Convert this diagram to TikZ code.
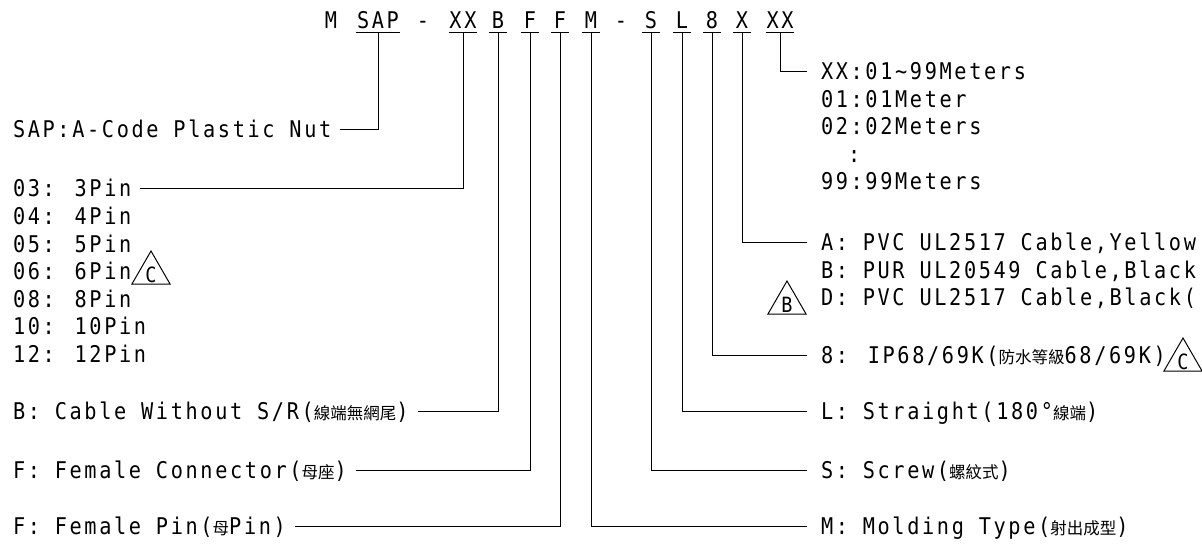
\documentclass[tikz,border=0pt]{standalone}
\usepackage{fontspec}
\usepackage{tikz}
\usetikzlibrary{shapes.geometric}
\newfontfamily\cadfont[FakeStretch=0.88, LetterSpace=11.5]{DejaVu Sans Mono}
\newfontfamily\cjkfont{Noto Sans CJK TC}
\newcommand{\zh}[1]{{\cjkfont\fontsize{16.5}{18}\selectfont #1}}

\begin{document}
\begin{tikzpicture}[
    x=1pt, y=-1pt,
    every node/.style={font=\cadfont\fontsize{23}{26}\selectfont, inner sep=0pt},
    code/.style={anchor=south, text height=16pt, text depth=0pt, inner ysep=4pt, minimum width=17pt},
    labL/.style={anchor=west, text height=16pt, text depth=0pt, outer xsep=9pt},
    labR/.style={anchor=west, text height=16pt, text depth=0pt, outer xsep=14pt},
    tri/.style={draw, line width=1pt, regular polygon, regular polygon sides=3, minimum size=44pt,
      text height=8pt, text depth=0pt, font=\cadfont\fontsize{21}{22}\selectfont},
    lead/.style={line width=1pt}
  ]
  \fill[white] (0,0) rectangle (1202,548);
  \useasboundingbox (0,0) rectangle (1202,548);
  \clip (0,0) rectangle (1202,548);

  % part number
  \node[code] (cM) at (331,33) {M};
  \node[code, minimum width=43pt] (cSAP) at (378,33) {SAP};
  \node[code] (cD1) at (423,33) {-};
  \node[code, minimum width=28pt] (cXX) at (463,33) {XX};
  \node[code] (cB) at (498,33) {B};
  \node[code] (cF1) at (530,33) {F};
  \node[code] (cF2) at (560,33) {F};
  \node[code] (cMo) at (591,33) {M};
  \node[code] (cD2) at (621,33) {-};
  \node[code] (cS) at (651,33) {S};
  \node[code] (cL) at (682,33) {L};
  \node[code] (c8) at (712,33) {8};
  \node[code] (cX) at (742,33) {X};
  \node[code, minimum width=28pt] (cXXb) at (780,33) {XX};
  \foreach \c in {cSAP,cXX,cB,cF1,cF2,cMo,cS,cL,c8,cX,cXXb}
    \draw[lead] (\c.south west) -- (\c.south east);

  % left side
  \node[labL] (lSAP) at (4,130) {SAP:A-Code Plastic Nut};
  \foreach \p/\t [count=\i] in {03/3Pin,04/4Pin,05/5Pin,06/6Pin,08/8Pin,10/10Pin,12/12Pin}
    \node[labL] (pin\p) at (4,{189+27.5*(\i-1)}) {\p: \t};
  \node[tri] (triC1) at (151,273) {\raisebox{-5pt}{C}};
  \node[labL] (lB) at (4,411) {B: Cable Without S/R(\zh{線端無網尾})};
  \node[labL] (lF1) at (4,470) {F: Female Connector(\zh{母座})};
  \node[labL] (lF2) at (4,526) {F: Female Pin(\zh{母}Pin)};

  % right side
  \node[labR] (lXX) at (807,72) {XX:01\char`\~99Meters};
  \node[labR] (m01) at (807,99.5) {01:01Meter};
  \node[labR] (m02) at (807,127) {02:02Meters};
  \node[labR] (mdots) at (807,154.5) {\phantom{99}:};
  \node[labR] (m99) at (807,182) {99:99Meters};
  \node[labR] (lA) at (807,243) {A: PVC UL2517 Cable,Yellow};
  \node[labR] (lBc) at (807,270) {B: PUR UL20549 Cable,Black};
  \node[labR] (lD) at (807,297) {D: PVC UL2517 Cable,Black(};
  \node[tri] (triB) at (787,303) {\raisebox{-5pt}{B}};
  \node[labR] (l8) at (807,355) {8: IP68/69K(\zh{防水等級}68/69K)};
  \node[tri] (triC2) at (1183,360) {\raisebox{-5pt}{C}};
  \node[labR] (lL) at (807,411) {L: Straight(180°\zh{線端})};
  \node[labR] (lS) at (807,470) {S: Screw(\zh{螺紋式})};
  \node[labR] (lM) at (807,526) {M: Molding Type(\zh{射出成型})};

  \draw[lead] (cSAP.south) |- (lSAP.east);
  \draw[lead] (cXX.south) |- (pin03.east);
  \draw[lead] (cB.south) |- (lB.east);
  \draw[lead] (cF1.south) |- (lF1.east);
  \draw[lead] (cF2.south) |- (lF2.east);
  \draw[lead] (cMo.south) |- (lM.west);
  \draw[lead] (cS.south) |- (lS.west);
  \draw[lead] (cL.south) |- (lL.west);
  \draw[lead] (c8.south) |- (l8.west);
  \draw[lead] (cX.south) |- (lA.west);
  \draw[lead] (cXXb.south) |- (lXX.west);
\end{tikzpicture}
\end{document}
